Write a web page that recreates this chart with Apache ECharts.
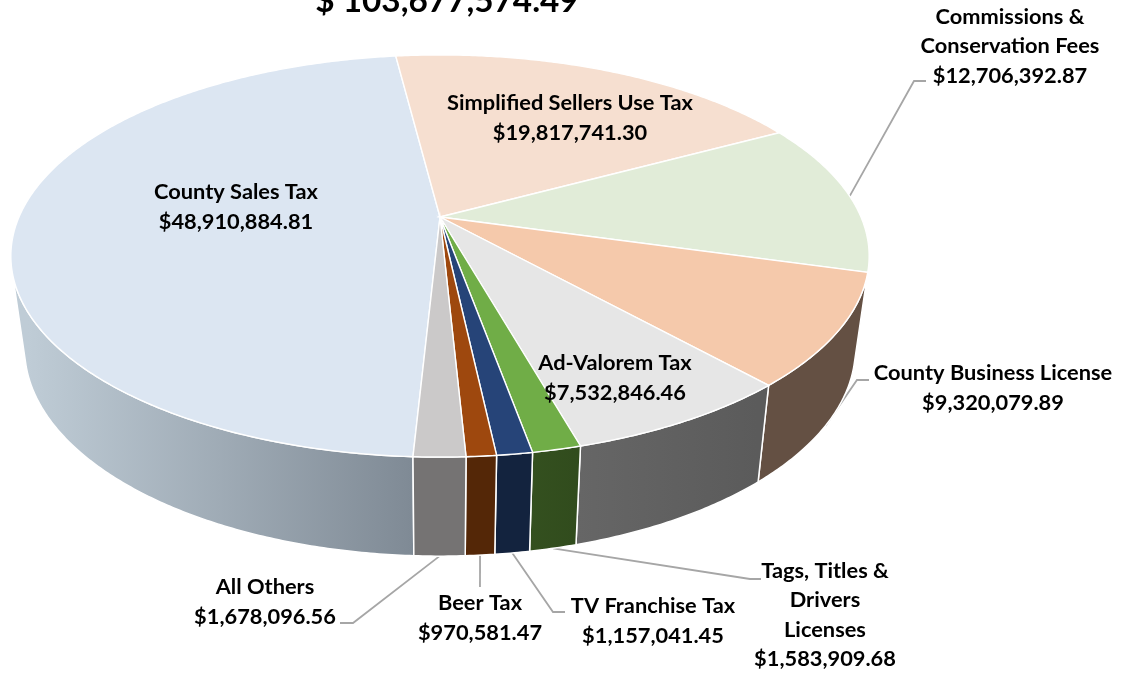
<!DOCTYPE html>
<html>
<head>
<meta charset="utf-8">
<style>html,body{margin:0;padding:0;background:#fff}#chart{width:1126px;height:673px}</style>
<script src="https://cdn.jsdelivr.net/npm/echarts@6/dist/echarts.min.js"></script>
</head>
<body>
<div id="chart"></div>
<script>
// ---------- data ----------
const categories = ['County Sales Tax','Simplified Sellers Use Tax','Commissions &\nConservation Fees','County Business License','Ad-Valorem Tax','Tags, Titles &\nDrivers\nLicenses','TV Franchise Tax','Beer Tax','All Others'];
const values = [48910884.81,19817741.30,12706392.87,9320079.89,7532846.46,1583909.68,1157041.45,970581.47,1678096.56];
const titleText = '$ 103,677,574.49';

// ---------- styles ----------
const topColors = ['#dce6f2','#f6dfd0','#e1ecd8','#f5c9ab','#e6e6e6','#70ad47','#264478','#9e480e','#cbc9c9'];
const wallColors = [
  [28,'#bfccd6',413,'#7f8a95'], null, null, '#645043',
  [578,'#666666',757,'#5b5b5b'], [530,'#34501f',576,'#314c1d'], '#13233e', '#542707', '#757373'
];
const FONT = 'Lato';
const FS = 21.8;

// ---------- layout ----------
const startDeg = -7.2;               // clockwise from the far point of the disc
const wallFrom = 106, wallTo = 254;  // part of the rim that shows a wall
const cx = 440, k = -0.194;
const topDisc = {a: 421, b: 193.5, y0: 217};
const baseDisc = {a: 407.5, b: 200, y0: 308};
const labelAt = [[236,207],[570,118],[1010,46],[993,388],[615,378],[825,615],[653,621],[480,618],[265,602]];
// leader: which disc it leaves from, then elbow and end
const leaders = [null,null,
  {disc: topDisc, pts: [[914,81],[926,81]]},
  {disc: baseDisc, pts: [[857,380],[869,380]]},
  null,
  {disc: baseDisc, pts: [[750,579],[761,579]]},
  {disc: baseDisc, pts: [[553,612],[565,612]]},
  {disc: baseDisc, pts: [[480,587]]},
  {disc: baseDisc, pts: [[353,623],[340,623]]}];

// ---------- derived ----------
const total = values.reduce((s, v) => s + v, 0);
const rad = d => d * Math.PI / 180;
function project(deg, disc) {
  const s = Math.sin(rad(deg)), y = -Math.cos(rad(deg)), d = 1 + k * y;
  return [cx + disc.a * s / d, disc.y0 + disc.b * y / d];
}
function arc(from, to, disc) {
  const out = [], n = Math.max(2, Math.ceil(Math.abs(to - from) * 2));
  for (let i = 0; i <= n; i++) out.push(project(from + (to - from) * i / n, disc));
  return out;
}
// County Sales Tax ends at startDeg; the others run clockwise from there
const ranges = [];
{
  let a = startDeg;
  ranges[0] = [startDeg - values[0] / total * 360 + 360, startDeg + 360];
  for (let i = 1; i < values.length; i++) {
    const sw = values[i] / total * 360;
    ranges[i] = [a, a + sw];
    a += sw;
  }
}
function fillOf(c) {
  if (Array.isArray(c)) {
    return new echarts.graphic.LinearGradient(c[0], 0, c[2], 0, [{offset:0,color:c[1]},{offset:1,color:c[3]}], true);
  }
  return c;
}
const money = v => '$' + v.toLocaleString('en-US', {minimumFractionDigits: 2, maximumFractionDigits: 2});
const seriesData = categories.map((n, i) => ({name: n, value: values[i]}));

const option = {
  animation: false,
  backgroundColor: '#fff',
  title: {
    text: titleText, left: 442, top: -20, textAlign: 'center',
    textStyle: {fontFamily: FONT, fontSize: 33.3, fontWeight: 'bold', color: '#000'}
  },
  tooltip: {show: false},
  series: [
    { // leader lines
      type: 'custom', coordinateSystem: 'none', z: 1, silent: true, data: seriesData,
      renderItem(p) {
        const l = leaders[p.dataIndex];
        if (!l) return {type: 'group', children: []};
        const r = ranges[p.dataIndex];
        const start = project((r[0] + r[1]) / 2, l.disc);
        return {type: 'polyline', shape: {points: [start].concat(l.pts)},
          style: {stroke: '#a6a6a6', lineWidth: 1.8, fill: null}};
      }
    },
    { // walls
      type: 'custom', coordinateSystem: 'none', z: 2, silent: true, data: seriesData,
      renderItem(p) {
        const i = p.dataIndex, c = wallColors[i], r = ranges[i];
        const from = Math.max(r[0], wallFrom), to = Math.min(r[1], wallTo);
        if (!c || to <= from) return {type: 'group', children: []};
        const pts = arc(from, to, topDisc).concat(arc(to, from, baseDisc));
        return {type: 'polygon', shape: {points: pts},
          style: {fill: fillOf(c), stroke: '#fff', lineWidth: 1.5}};
      }
    },
    { // top faces
      type: 'custom', coordinateSystem: 'none', z: 3, silent: true, data: seriesData,
      renderItem(p) {
        const r = ranges[p.dataIndex];
        const pts = [[cx, topDisc.y0]].concat(arc(r[0], r[1], topDisc));
        return {type: 'polygon', shape: {points: pts},
          style: {fill: topColors[p.dataIndex], stroke: '#fff', lineWidth: 1.4}};
      }
    },
    { // labels
      type: 'custom', coordinateSystem: 'none', z: 4, silent: true, data: seriesData,
      renderItem(p) {
        const i = p.dataIndex;
        return {type: 'text', x: labelAt[i][0], y: labelAt[i][1],
          style: {text: categories[i] + '\n' + money(values[i]),
            font: 'bold ' + FS + 'px ' + FONT, fill: '#000',
            align: 'center', verticalAlign: 'middle', lineHeight: 29.5}};
      }
    }
  ]
};
echarts.init(document.getElementById('chart'), null, {renderer: 'canvas'}).setOption(option);
</script>
</body>
</html>
